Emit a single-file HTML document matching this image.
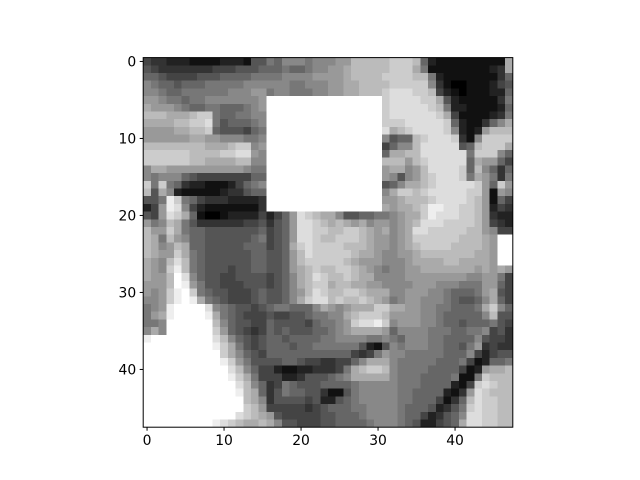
<!DOCTYPE html>
<html><head><meta charset="utf-8"><style>
html,body{margin:0;padding:0;background:#fff;}
svg{display:block;font-family:"DejaVu Sans","Liberation Sans",sans-serif;}
</style></head><body>
<svg id="chart" width="640" height="480" viewBox="0 0 640 480">
<rect width="640" height="480" fill="#fff"/>
<g id="cells" shape-rendering="crispEdges"></g>
<g id="axes"></g>
</svg>
<script>
// each row: left 16 cols | middle 16 cols | right 16 cols (hex 0=black .. f=white)
const imageRows = [
["4332221111222155","76888788899bbbbb","cccb62111111111a"],
["5433333334445556","6676678899abbbbb","ccca71111111123a"],
["6654444555666677","7788889999abbbbc","cccbb72111111136"],
["8766566677777888","8887788899aabbbb","ccccc83100111245"],
["8876677777788899","7887778899aabbbc","dddccb4210111226"],
["9987767788888889","fffffffffffffffc","ddddcca521111137"],
["a999876677666789","fffffffffffffffc","dddddcb722111126"],
["bbbaaabcc7667788","fffffffffffffffc","ddddddca41111237"],
["aaaabbccd7566678","fffffffffffffffc","ccdddddc6211368a"],
["9999aabbc6555467","fffffffffffffffd","abcddddc82129bbb"],
["999999aa99888778","fffffffffffffff8","566bcdddc318cccc"],
["bbbbbbbbaaabcc89","fffffffffffffff4","688bddddd56bccca"],
["ccccccbbbbccdd98","fffffffffffffff6","aabbdddddd7ccc86"],
["ccccccbbaaaabb88","fffffffffffffffb","bb9bcddddd6a9964"],
["8aa9999999999877","fffffffffffffff9","aa89bddddc6b8636"],
["8788865444444466","fffffffffffffff9","8589bcdddc7a9737"],
["c7c7632211124678","fffffffffffffff5","68aabcdddddc96c9"],
["b5a8211111233566","fffffffffffffff8","accbcdddddcc9198"],
["557ec76433322223","fffffffffffffff9","9abbbcddddcb9164"],
["249ed84211111113","fffffffffffffffa","9aabceeddccb9243"],
["549dca6100122224","2469dcbaa8556677","89aacedddccb9322"],
["978ba75333333445","3569ddcbaba9a899","89abdddccccb9432"],
["b99ca76655555556","4569ddccbbccba9a","89addcccccbb9844"],
["ba7b986655555567","4569ddcbbcccba99","89accccccbbba9ff"],
["ba89ba6655555666","456acdccccbbba99","89abccccbbbba9ff"],
["ba99ca7655555566","5569bdcccccbaa98","899abbbbbbbaa9ff"],
["a98bdb7655555566","5569bcccccba9998","889aaaabbaaaa9ff"],
["a98ceb7655545566","5569abcbbccba987","8899aaaaaaa9a9a9"],
["a99bfd8655445555","4568abdcbbcbaa88","8899999999889974"],
["999bfe9755444555","4568abccabbaa998","8889998887779964"],
["989cefc765544456","55689bdcbbccbaaa","8899988766679a54"],
["889cefea76544456","5568acddbcbbcba9","7899888765568a64"],
["789effffd8765545","6776668a989aaacc","aa9988776667ac86"],
["79aeffffea765444","5445567788abcccb","9999887666668b55"],
["778ffffffb865544","65555467789cddec","8999887665666754"],
["8a8ffffffc965434","65655566789aaaa9","6888877766778453"],
["effffffffdb86545","6656666778888778","7688877666685443"],
["fffffffffeca7545","6665667777775215","8788877665793433"],
["ffffffffffca8654","6666666666643479","8877777666842455"],
["ffffffffffec9755","5566544334468aaa","8777776667412667"],
["fffffffffffdb864","42112233347abccb","8777766664129aab"],
["fffffffffffeca74","44223555678aaaaa","877766667117cbbb"],
["ffffffffffffdb86","3476555666678888","87776666214cdcbb"],
["ffffffffffffeba6","3576655311578888","87766662139dcbbb"],
["fffffffffffffba8","3555545225678888","8776664136bdccbb"],
["fffffffffffffcb9","4444434566677888","8766652357cdccbb"],
["ffffffffffffdcba","9544444556667888","8766423568ddccbb"],
["fffffffffedcbaab","a855444556666788","876522456addccbb"]
];
const xTickLabels = [0, 10, 20, 30, 40];
const yTickLabels = [0, 10, 20, 30, 40];
</script>
<script>
const nCols = 48;
const nRows = imageRows.length;
const pixelValues = imageRows.map(parts => {
  let s = parts.join("").replace(/[^0-9a-f]/g, "");
  if (s.length > nCols) s = s.slice(0, nCols);
  while (s.length < nCols) s += s.length ? s[s.length-1] : "8";
  return s.split("").map(ch => parseInt(ch, 16));
});
const ax = {left: 143.2, top: 57.6, size: 369.6};
const unit = ax.size / nCols;
function xPos(v){ return ax.left + (v + 0.5) * unit; }
function yPos(v){ return ax.top + (v + 0.5) * unit; }
const NS = "http://www.w3.org/2000/svg";
const cells = document.getElementById("cells");
let vmin = 15, vmax = 0;
pixelValues.forEach(r => r.forEach(v => { vmin = Math.min(vmin, v); vmax = Math.max(vmax, v); }));
if (vmax === vmin) vmax = vmin + 1;
pixelValues.forEach((row, i) => {
  row.forEach((v, j) => {
    const g = Math.round((v - vmin) / (vmax - vmin) * 255);
    const r = document.createElementNS(NS, "rect");
    r.setAttribute("x", (xPos(j) - unit/2).toFixed(2));
    r.setAttribute("y", (yPos(i) - unit/2).toFixed(2));
    r.setAttribute("width", (unit + 0.4).toFixed(2));
    r.setAttribute("height", (unit + 0.4).toFixed(2));
    r.setAttribute("fill", `rgb(${g},${g},${g})`);
    
    
    cells.appendChild(r);
  });
});
const axes = document.getElementById("axes");
const frame = document.createElementNS(NS, "rect");
frame.setAttribute("x", ax.left); frame.setAttribute("y", ax.top);
frame.setAttribute("width", ax.size); frame.setAttribute("height", ax.size);
frame.setAttribute("fill", "none"); frame.setAttribute("stroke", "#000"); frame.setAttribute("stroke-width", "1");


axes.appendChild(frame);
const bottom = ax.top + ax.size;
xTickLabels.forEach(v => {
  const x = xPos(v);
  const l = document.createElementNS(NS, "line");
  l.setAttribute("x1", x); l.setAttribute("x2", x);
  l.setAttribute("y1", bottom); l.setAttribute("y2", bottom + 3.5);
  l.setAttribute("stroke", "#000");
  
  
  axes.appendChild(l);
  const t = document.createElementNS(NS, "text");
  t.setAttribute("x", x); t.setAttribute("y", bottom + 18);
  t.setAttribute("text-anchor", "middle"); t.setAttribute("font-size", "13.9");
  t.textContent = v;
  
  
  axes.appendChild(t);
});
yTickLabels.forEach(v => {
  const y = yPos(v);
  const l = document.createElementNS(NS, "line");
  l.setAttribute("x1", ax.left - 3.5); l.setAttribute("x2", ax.left);
  l.setAttribute("y1", y); l.setAttribute("y2", y);
  l.setAttribute("stroke", "#000");
  
  
  axes.appendChild(l);
  const t = document.createElementNS(NS, "text");
  t.setAttribute("x", ax.left - 7); t.setAttribute("y", y + 5);
  t.setAttribute("text-anchor", "end"); t.setAttribute("font-size", "13.9");
  t.textContent = v;
  
  
  axes.appendChild(t);
});
</script>
</body></html>
